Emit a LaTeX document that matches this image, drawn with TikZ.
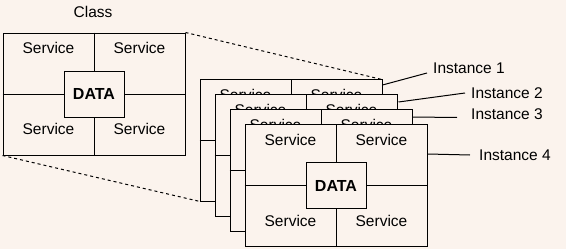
\documentclass[tikz,border=0pt]{standalone}
\usepackage{fontspec}
\setmainfont{Liberation Sans}
\usetikzlibrary{calc}
\definecolor{paper}{RGB}{251,243,237}
\tikzset{
  outerbox/.style={draw, fill=paper, line width=1pt, minimum width=182pt, minimum height=122pt, inner sep=0pt},
  databox/.style={draw, fill=paper, line width=1pt, minimum width=60pt, minimum height=46pt, inner sep=0pt, font=\fontsize{16}{19}\selectfont\bfseries},
  svc/.style={inner sep=0pt, font=\fontsize{15.5}{18}\selectfont},
  lbl/.style={inner sep=0pt, anchor=west, font=\fontsize{15.5}{18}\selectfont},
  divline/.style={line width=1pt},
  linkline/.style={line width=1pt},
  dashline/.style={line width=1pt, dash pattern=on 3pt off 3pt}
}
\newcommand\objbox[2]{%
  \node[outerbox] (#1) at (#2) {};
  \node[databox] (#1d) at (#1.center) {DATA};
  \draw[divline] (#1.north) -- (#1d.north);
  \draw[divline] (#1.south) -- (#1d.south);
  \draw[divline] (#1.west) -- (#1d.west);
  \draw[divline] (#1.east) -- (#1d.east);
  \node[svc] (#1sa) at ($(#1.center)+(-45.5,-46)$) {Service};
  \node[svc] (#1sb) at ($(#1.center)+(45.5,-46)$) {Service};
  \node[svc] (#1sc) at ($(#1.center)+(-45.5,35)$) {Service};
  \node[svc] (#1sd) at ($(#1.center)+(45.5,35)$) {Service};
}
\begin{document}
\begin{tikzpicture}[x=1pt,y=-1pt]
\fill[paper] (0,0) rectangle (566,249);
\useasboundingbox (0,0) rectangle (566,249);
\node[svc] (cl) at (93,12) {Class};
\objbox{cls}{94,94}
\coordinate (i1pos) at (291,140.5);
\draw[dashline] (cls.north east) -- ($(i1pos)+(91,-61)$);
\draw[dashline] (cls.south west) -- ($(i1pos)+(-91,61)$);
\objbox{i1}{291,140.5}
\objbox{i2}{306,155.5}
\objbox{i3}{321,170.5}
\objbox{i4}{336,185.5}
\node[lbl] (lab1) at (433,68) {Instance 1};
\node[lbl] (lab2) at (471,93) {Instance 2};
\node[lbl] (lab3) at (471,114) {Instance 3};
\node[lbl] (lab4) at (479,155) {Instance 4};
\draw[linkline] ($(i1.north east)+(0,6)$) -- ($(lab1.west)+(-6,5)$);
\draw[linkline] ($(i2.north east)+(1,8)$) -- ($(lab2.west)+(-6,0)$);
\draw[linkline] ($(i3.north east)+(0,8)$) -- ($(lab3.west)+(-14,3.5)$);
\draw[linkline] ($(i4.north east)+(0,30)$) -- ($(lab4.west)+(-9,0)$);
\end{tikzpicture}
\end{document}
